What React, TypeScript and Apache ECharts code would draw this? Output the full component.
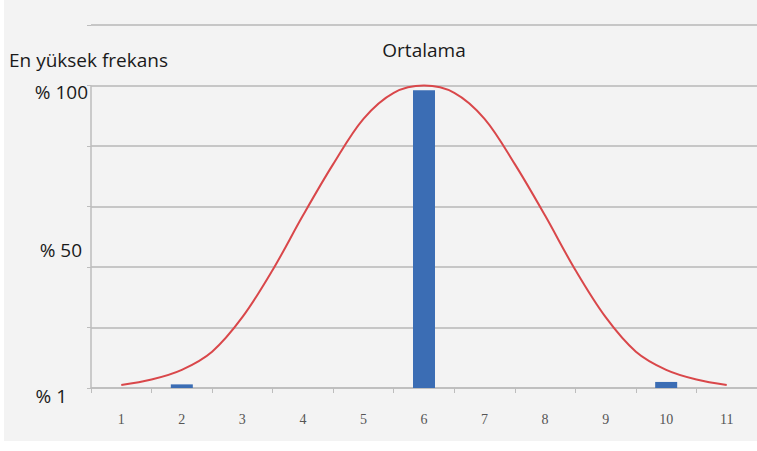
import React, { useEffect, useRef } from "react";
import * as echarts from "echarts";

const categories = ["1", "2", "3", "4", "5", "6", "7", "8", "9", "10", "11"];
const barValues = [0, 0.06, 0, 0, 0, 4.92, 0, 0, 0, 0.1, 0];
const curveX = [1, 1.5, 2, 2.5, 3, 3.5, 4, 4.5, 5, 5.5, 6, 6.5, 7, 7.5, 8, 8.5, 9, 9.5, 10, 10.5, 11];
const curveY = [0.05, 0.14, 0.3, 0.6, 1.17, 1.95, 2.85, 3.7, 4.45, 4.88, 5.0, 4.88, 4.45, 3.7, 2.85, 1.95, 1.17, 0.6, 0.3, 0.14, 0.05];
const yTitle = "En yüksek frekans";
const meanLabel = "Ortalama";
const yTickLabels = ["% 100", "% 50", "% 1"];

export default function App() {
  const ref = useRef<HTMLDivElement>(null);
  useEffect(() => {
    if (!ref.current) return;
    const chart = echarts.init(ref.current, null, { renderer: "svg" });
    const textStyle = { fill: "#1a1a1a", fontFamily: "Open Sans", fontSize: 19 };
    chart.setOption({
      animation: false,
      backgroundColor: "#ffffff",
      grid: { left: 91, right: -6, top: 25, bottom: 63, containLabel: false },
      xAxis: [
        {
          type: "category",
          data: categories,
          boundaryGap: true,
          axisLine: { lineStyle: { color: "#bdbdbd", width: 1.5 } },
          axisTick: { show: true, length: 5, lineStyle: { color: "#bdbdbd" } },
          axisLabel: { color: "#555555", fontFamily: "Liberation Serif", fontSize: 14, margin: 24 },
        },
        { type: "value", min: 0.5, max: 11.5, show: false },
      ],
      yAxis: {
        type: "value",
        min: 0,
        max: 6,
        interval: 1,
        axisLine: { show: false },
        axisTick: { show: true, length: 4, lineStyle: { color: "#bdbdbd" } },
        axisLabel: { show: false },
        splitLine: { lineStyle: { color: "#c6c6c6", width: 2 } },
      },
      series: [
        {
          type: "bar",
          xAxisIndex: 0,
          data: barValues,
          barWidth: 22,
          itemStyle: { color: "#3b6db4" },
          z: 2,
        },
        {
          type: "line",
          xAxisIndex: 1,
          data: curveX.map((x, i) => [x, curveY[i]]),
          smooth: 0.35,
          showSymbol: false,
          lineStyle: { color: "#d9474a", width: 2 },
          z: 3,
        },
      ],
    });
    const pBottom = chart.convertToPixel({ seriesIndex: 1 }, [0.5, 0]) as number[];
    const pTop = chart.convertToPixel({ seriesIndex: 1 }, [0.5, 5]) as number[];
    const pMean = chart.convertToPixel({ seriesIndex: 1 }, [6, 5]) as number[];
    chart.setOption({
      graphic: [
        {
          type: "rect",
          z: -10,
          silent: true,
          shape: { x: 4, y: 0, width: 760, height: 441 },
          style: { fill: "#f3f3f3" },
        },
        {
          type: "line",
          shape: { x1: pBottom[0], y1: pBottom[1], x2: pTop[0], y2: pTop[1] },
          style: { stroke: "#bdbdbd", lineWidth: 1.5 },
        },
        {
          type: "text",
          x: 9,
          y: 60,
          style: { ...textStyle, text: yTitle, textAlign: "left", textVerticalAlign: "middle" },
        },
        {
          type: "text",
          x: pMean[0],
          y: 50,
          style: { ...textStyle, text: meanLabel, textAlign: "center", textVerticalAlign: "middle" },
        },
        {
          type: "text",
          x: 88,
          y: pTop[1] + 6,
          style: { ...textStyle, text: yTickLabels[0], textAlign: "right", textVerticalAlign: "middle" },
        },
        {
          type: "text",
          x: 82,
          y: 250,
          style: { ...textStyle, text: yTickLabels[1], textAlign: "right", textVerticalAlign: "middle" },
        },
        {
          type: "text",
          x: 67,
          y: pBottom[1] + 8,
          style: { ...textStyle, text: yTickLabels[2], textAlign: "right", textVerticalAlign: "middle" },
        },
      ],
    });
    return () => chart.dispose();
  }, []);
  return (
    <div
      ref={ref}
      style={{ position: "fixed", left: 0, top: 0, width: 757, height: 451 }}
    />
  );
}
